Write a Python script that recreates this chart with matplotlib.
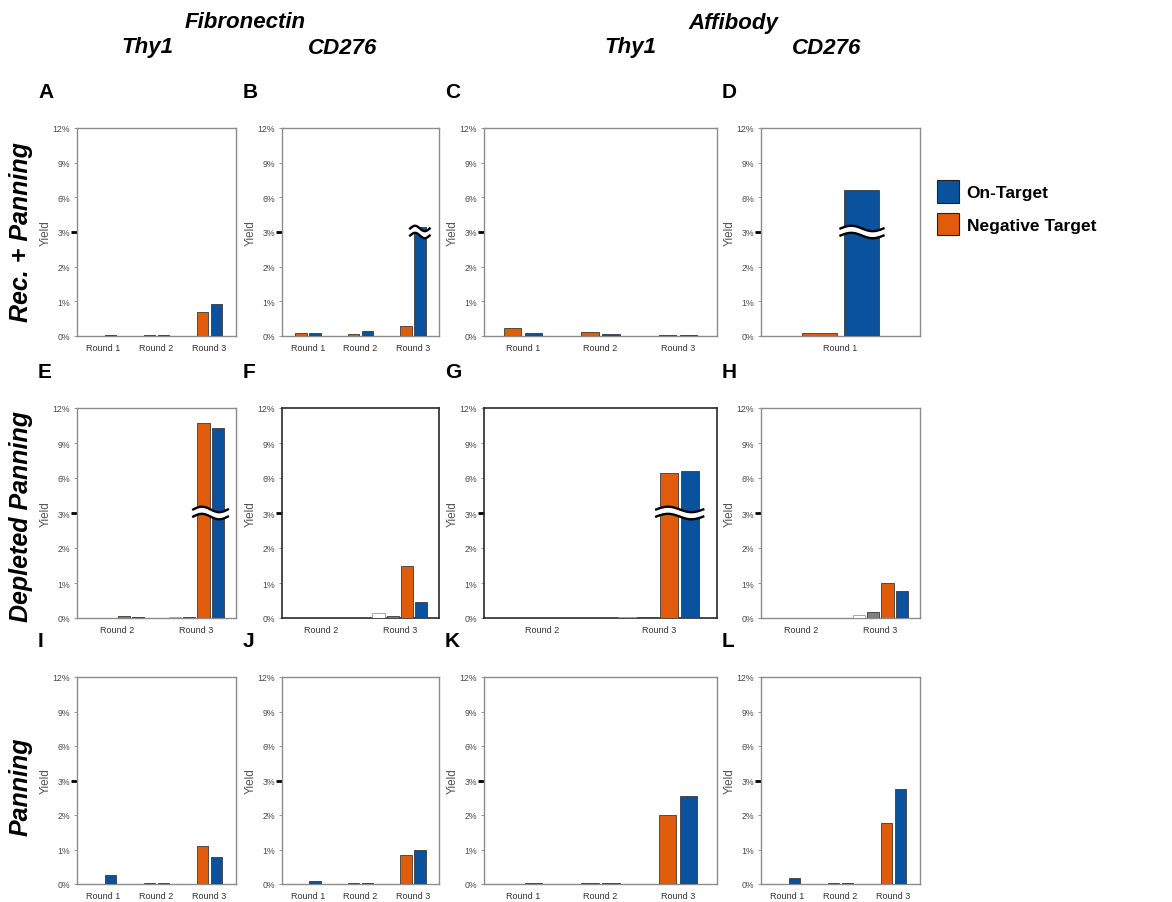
import numpy as np
import matplotlib.pyplot as plt
from matplotlib.patches import Patch, Polygon

plt.rcParams['font.family'] = ['Liberation Sans', 'DejaVu Sans']

ON_COLOR = '#0B529E'
NEG_COLOR = '#E05B0C'
WHITE_COLOR = '#ffffff'
GRAY_COLOR = '#7f7f7f'

ROUNDS_123 = ['Round 1', 'Round 2', 'Round 3']
ROUNDS_1 = ['Round 1']
ROUNDS_23 = ['Round 2', 'Round 3']

YTICKS = [0, 1, 2, 3, 6, 9, 12]
YTICK_LABELS = ['0%', '1%', '2%', '3%', '6%', '9%', '12%']

# Rec. + Panning (yield in %)
a_neg = [0.0, 0.02, 0.68]
a_on = [0.03, 0.03, 0.93]
b_neg = [0.08, 0.07, 0.30]
b_on = [0.10, 0.15, 3.4]
c_neg = [0.22, 0.12, 0.02]
c_on = [0.08, 0.05, 0.04]
d_neg = [0.08]
d_on = [6.6]

# Depleted Panning
e_white = [0.01, 0.03]
e_gray = [0.01, 0.03]
e_neg = [0.06, 10.7]
e_on = [0.04, 10.3]
f_white = [0.01, 0.15]
f_gray = [0.01, 0.05]
f_neg = [0.01, 1.49]
f_on = [0.01, 0.46]
g_white = [0.01, 0.02]
g_gray = [0.01, 0.03]
g_neg = [0.01, 6.4]
g_on = [0.01, 6.6]
h_white = [0.01, 0.08]
h_gray = [0.01, 0.17]
h_neg = [0.01, 1.0]
h_on = [0.01, 0.76]

# Panning
i_neg = [0.0, 0.02, 1.11]
i_on = [0.26, 0.02, 0.77]
j_neg = [0.0, 0.03, 0.83]
j_on = [0.09, 0.03, 1.0]
k_neg = [0.0, 0.02, 2.0]
k_on = [0.02, 0.02, 2.54]
l_neg = [0.0, 0.04, 1.78]
l_on = [0.17, 0.02, 2.74]

W, H = 1172, 903
COL_PX = [(77, 236), (282, 439), (484, 717), (761, 920)]
ROW_PX = [(129, 337), (409, 619), (678, 885)]


def fwd(y):
    y = np.asarray(y, dtype=float)
    return np.where(y <= 3, y, 3 + (y - 3) / 3)


def inv(u):
    u = np.asarray(u, dtype=float)
    return np.where(u <= 3, u, 3 + (u - 3) * 3)


def draw_break(ax, x0, x1):
    xs = np.linspace(x0, x1, 60)
    t = (xs - x0) / (x1 - x0)
    wave = 0.013 * np.sin(2 * np.pi * t)
    upper = 0.5 + 0.017 + wave
    lower = 0.5 - 0.017 + wave
    tr = ax.get_xaxis_transform()
    verts = np.column_stack([np.r_[xs, xs[::-1]], np.r_[upper, lower[::-1]]])
    ax.add_patch(Polygon(verts, closed=True, transform=tr, facecolor='white',
                         edgecolor='none', zorder=5, clip_on=False))
    ax.plot(xs, upper, transform=tr, color='black', lw=1.7, zorder=6, clip_on=False)
    ax.plot(xs, lower, transform=tr, color='black', lw=1.7, zorder=6, clip_on=False)


two = lambda neg, on: [(neg, NEG_COLOR), (on, ON_COLOR)]
four = lambda w, g, neg, on: [(w, WHITE_COLOR), (g, GRAY_COLOR), (neg, NEG_COLOR), (on, ON_COLOR)]

panels = [
    ('A', 0, 0, ROUNDS_123, two(a_neg, a_on), False),
    ('B', 0, 1, ROUNDS_123, two(b_neg, b_on), False),
    ('C', 0, 2, ROUNDS_123, two(c_neg, c_on), False),
    ('D', 0, 3, ROUNDS_1, two(d_neg, d_on), False),
    ('E', 1, 0, ROUNDS_23, four(e_white, e_gray, e_neg, e_on), False),
    ('F', 1, 1, ROUNDS_23, four(f_white, f_gray, f_neg, f_on), True),
    ('G', 1, 2, ROUNDS_23, four(g_white, g_gray, g_neg, g_on), True),
    ('H', 1, 3, ROUNDS_23, four(h_white, h_gray, h_neg, h_on), False),
    ('I', 2, 0, ROUNDS_123, two(i_neg, i_on), False),
    ('J', 2, 1, ROUNDS_123, two(j_neg, j_on), False),
    ('K', 2, 2, ROUNDS_123, two(k_neg, k_on), False),
    ('L', 2, 3, ROUNDS_123, two(l_neg, l_on), False),
]

fig = plt.figure(figsize=(W / 100, H / 100), dpi=100)

for letter, r, c, rounds, series, dark in panels:
    l, rt = COL_PX[c]
    t, b = ROW_PX[r]
    ax = fig.add_axes([l / W, 1 - b / H, (rt - l) / W, (b - t) / H])
    ax.set_yscale('function', functions=(fwd, inv))
    x = np.arange(len(rounds))
    n = len(series)
    if n == 2:
        width = 0.22
        offsets = [-0.135, 0.135]
    else:
        width = 0.155
        offsets = [-0.27, -0.09, 0.09, 0.27]
    for (vals, col), off in zip(series, offsets):
        ec = '#9a9a9a' if col == WHITE_COLOR else '#3a3a3a'
        ax.bar(x + off, vals, width, color=col, edgecolor=ec, linewidth=0.6, zorder=3)

    # axis break across bars above 3%
    px_per_unit = (rt - l) / len(rounds)
    pad = 4 / px_per_unit
    for gi in range(len(rounds)):
        tall = [off for (vals, col), off in zip(series, offsets) if vals[gi] > 3]
        if tall:
            draw_break(ax, gi + min(tall) - width / 2 - pad, gi + max(tall) + width / 2 + pad)

    ax.set_xlim(-0.5, len(rounds) - 0.5)
    ax.set_ylim(0, 12)
    ax.set_yticks(YTICKS)
    ax.set_yticklabels(YTICK_LABELS)
    ax.set_xticks(x)
    ax.set_xticklabels(rounds)
    ax.tick_params(axis='y', length=2, width=0.6, color='#888888', labelsize=6.3,
                   labelcolor='#4a4a4a', pad=3)
    ax.tick_params(axis='x', length=0, labelsize=6.5, labelcolor='#333333', pad=5)
    t3 = ax.yaxis.get_major_ticks()[3]
    t3.tick1line.set_markeredgecolor('black')
    t3.tick1line.set_markersize(4)
    t3.tick1line.set_markeredgewidth(2)
    ax.set_ylabel('Yield', fontsize=8.5, color='#555555', labelpad=0.5)
    for sp in ax.spines.values():
        sp.set_color('#2a2a2a' if dark else '#8c8c8c')
        sp.set_linewidth(1.2 if dark else 1.0)

    fig.text((l - 39) / W, 1 - (t - 36) / H, letter, fontsize=15, fontweight='bold',
             ha='left', va='center')

# column headers
hdr = dict(fontsize=16, fontweight='bold', fontstyle='italic', ha='center', va='center')
fig.text(245 / W, 1 - 23 / H, 'Fibronectin', **hdr)
fig.text(147 / W, 1 - 48 / H, 'Thy1', **hdr)
fig.text(343 / W, 1 - 48 / H, 'CD276', **hdr)
fig.text(733 / W, 1 - 23 / H, 'Affibody', **hdr)
fig.text(630 / W, 1 - 48 / H, 'Thy1', **hdr)
fig.text(827 / W, 1 - 48 / H, 'CD276', **hdr)

# row labels
rowlab = dict(fontsize=18, fontweight='bold', fontstyle='italic', ha='center',
              va='center', rotation=90)
fig.text(21 / W, 1 - 232 / H, 'Rec. + Panning', **rowlab)
fig.text(21 / W, 1 - 517 / H, 'Depleted Panning', **rowlab)
fig.text(21 / W, 1 - 787 / H, 'Panning', **rowlab)

handles = [Patch(facecolor=ON_COLOR, edgecolor='#222222', linewidth=0.8),
           Patch(facecolor=NEG_COLOR, edgecolor='#222222', linewidth=0.8)]
fig.legend(handles, ['On-Target', 'Negative Target'], loc='upper left',
           bbox_to_anchor=(932 / W, 1 - 176 / H), frameon=False,
           prop=dict(weight='bold', size=12.5), handlelength=1.25, handleheight=1.6,
           labelspacing=0.6, handletextpad=0.45, borderaxespad=0, borderpad=0.3)

fig.savefig('out.png', dpi=100)
